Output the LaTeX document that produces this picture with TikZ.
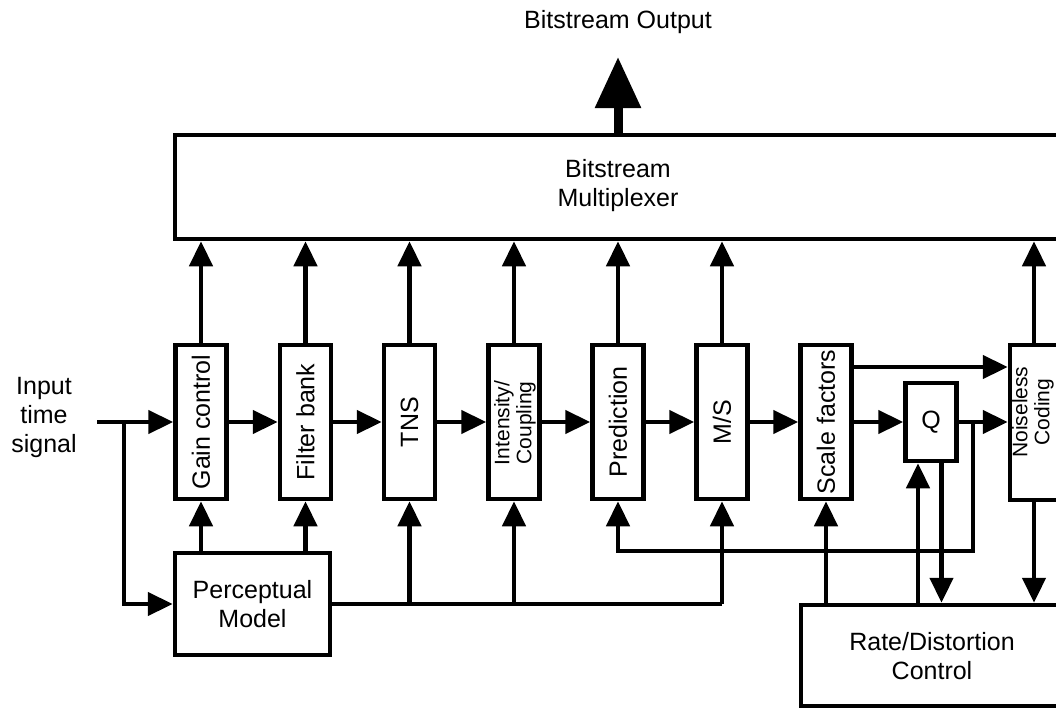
\documentclass[tikz,border=0pt]{standalone}
\usepackage{fontspec}
\setmainfont{Liberation Sans}
\usetikzlibrary{arrows.meta}
\begin{document}
\begin{tikzpicture}[x=1pt,y=-1pt,
  lw/.style={line width=4.5pt},
  box/.style={draw, lw, inner sep=0pt, minimum width=51pt, minimum height=154pt},
  bigtext/.style={font=\fontsize{25}{29}\selectfont, align=center, inner sep=0pt},
  smalltext/.style={font=\fontsize{21}{22}\selectfont, align=center, inner sep=0pt},
  arr/.style={lw, -{Triangle[length=25pt,width=23pt]}},
  bigarr/.style={line width=9pt, -{Triangle[length=51pt,width=44pt]}}]
\clip (0,0) rectangle (1056,709);

% title
\node[bigtext] (title) at (618,22) {Bitstream Output};

% multiplexer
\node[draw, lw, minimum width=915pt, minimum height=104pt, inner sep=0pt] (mux) at (632.5,187) {};
\node[bigtext] (muxtext) at (618,186) {Bitstream\\Multiplexer};
\coordinate (outtip) at (618,57);
\draw[bigarr] (mux.north -| outtip) -- (outtip);

% processing boxes
\node[box] (gc) at (201,422) {\rotatebox{90}{\fontsize{25}{29}\selectfont Gain control}};
\node[box] (fb) at (305.5,422) {\rotatebox{90}{\fontsize{25}{29}\selectfont Filter bank}};
\node[box] (tns) at (409.5,422) {\rotatebox{90}{\fontsize{25}{29}\selectfont TNS}};
\node[box] (ic) at (514,422) {};
\node[smalltext, rotate=90] (ictext) at (515,423) {Intensity/\\Coupling};
\node[box] (pr) at (618,422) {\rotatebox{90}{\fontsize{25}{29}\selectfont Prediction}};
\node[box] (ms) at (722,422) {\rotatebox{90}{\fontsize{25}{29}\selectfont M/S}};
\node[box] (sf) at (826,422) {\rotatebox{90}{\fontsize{25}{29}\selectfont Scale factors}};
\node[draw, lw, minimum width=51pt, minimum height=78pt, inner sep=0pt, font=\fontsize{25}{29}\selectfont] (q) at (931,422) {Q};
\node[draw, lw, minimum width=90pt, minimum height=155pt, inner sep=0pt] (nc) at (1055,422.5) {};
\node[smalltext, rotate=90] (nctext) at (1033,412) {Noiseless\\Coding};

% perceptual model and rate/distortion
\node[draw, lw, minimum width=155pt, minimum height=102pt, inner sep=0pt, bigtext] (pm) at (252.5,604) {Perceptual\\Model};
\node[draw, lw, minimum width=300pt, minimum height=101pt, inner sep=0pt] (rd) at (951,655.5) {};
\node[bigtext] (rdtext) at (932,656) {Rate/Distortion\\Control};

% input
\node[bigtext] (input) at (44,417) {Input\\time\\signal};
\coordinate (in) at (97,422);
\coordinate (br) at (124,422);
\draw[arr] (in) -- (gc);
\draw[arr] (br) |- (pm);

% main chain
\draw[arr] (gc) -- (fb);
\draw[arr] (fb) -- (tns);
\draw[arr] (tns) -- (ic);
\draw[arr] (ic) -- (pr);
\draw[arr] (pr) -- (ms);
\draw[arr] (ms) -- (sf);
\draw[arr] (sf) -- (q);
\draw[arr] (q) -- (q -| nc.west);
\draw[arr] (sf.east |- 0,367) -- (nc.west |- 0,367);

% outputs to multiplexer
\foreach \n in {gc,fb,tns,ic,pr,ms}
  \draw[arr] (\n.north) -- (\n |- mux.south);
\coordinate (ncx) at (1034,0);
\draw[arr] (ncx |- nc.north) -- (ncx |- mux.south);

% perceptual model outputs
\draw[arr] (gc |- pm.north) -- (gc.south);
\draw[arr] (fb |- pm.north) -- (fb.south);
\draw[lw] (pm.east) -- (ms |- pm.east);
\draw[arr] (tns |- pm.east) -- (tns.south);
\draw[arr] (ic |- pm.east) -- (ic.south);
\draw[arr] (ms |- pm.east) -- (ms.south);

% feedback from Q output to prediction
\coordinate (tap) at (973,422);
\draw[arr] (tap) -- (tap |- 0,551) -| (pr.south);

% rate/distortion loops
\coordinate (rq) at (918,0);
\coordinate (qr) at (941.5,0);
\draw[arr] (sf |- rd.north) -- (sf.south);
\draw[arr] (rq |- rd.north) -- (rq |- q.south);
\draw[arr] (qr |- q.south) -- (qr |- rd.north);
\draw[arr] (ncx |- nc.south) -- (ncx |- rd.north);
\end{tikzpicture}
\end{document}
